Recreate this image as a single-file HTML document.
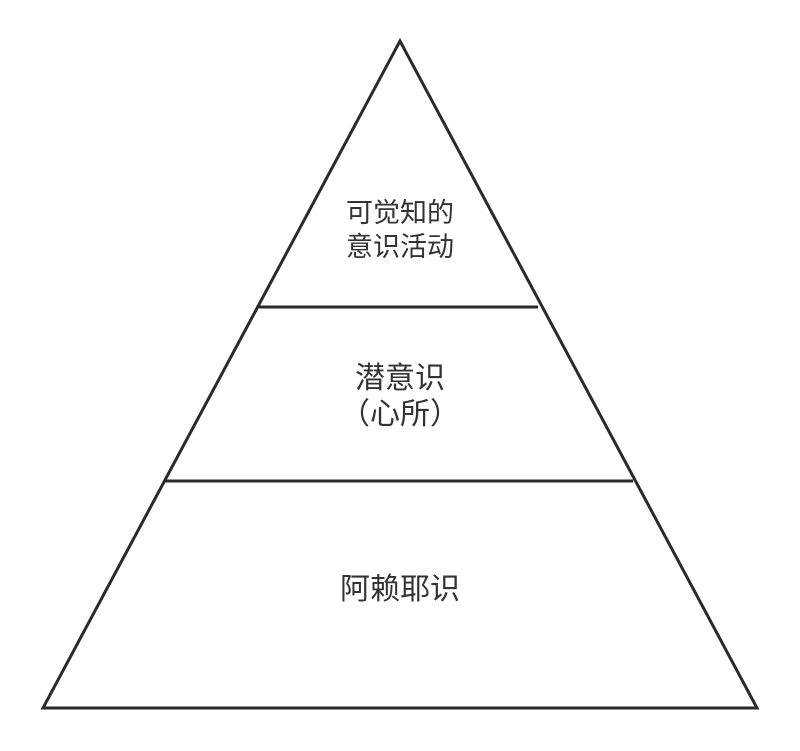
<!DOCTYPE html>
<html><head><meta charset="utf-8"><style>
html,body{margin:0;padding:0;background:#fff;}
svg{display:block;}
text{font-family:"Liberation Sans","Noto Sans CJK SC",sans-serif;fill:#333;}
</style></head><body>
<svg width="800" height="751" viewBox="0 0 800 751" xmlns="http://www.w3.org/2000/svg">
<rect width="800" height="751" fill="#fff"/>
<polygon points="400,41 43,708 757,708" fill="none" stroke="#2a2a2a" stroke-width="3" stroke-linejoin="miter"/>
<line x1="259" y1="307" x2="538" y2="307" stroke="#2a2a2a" stroke-width="3"/>
<line x1="165" y1="481" x2="633" y2="481" stroke="#2a2a2a" stroke-width="3"/>
<text x="400" y="222" text-anchor="middle" font-size="27">可觉知的</text>
<text x="400" y="256" text-anchor="middle" font-size="27">意识活动</text>
<text x="400" y="388" text-anchor="middle" font-size="30">潜意识</text>
<text x="400" y="424" text-anchor="middle" font-size="30">（心所）</text>
<text x="400" y="599" text-anchor="middle" font-size="30">阿赖耶识</text>
</svg>
</body></html>
